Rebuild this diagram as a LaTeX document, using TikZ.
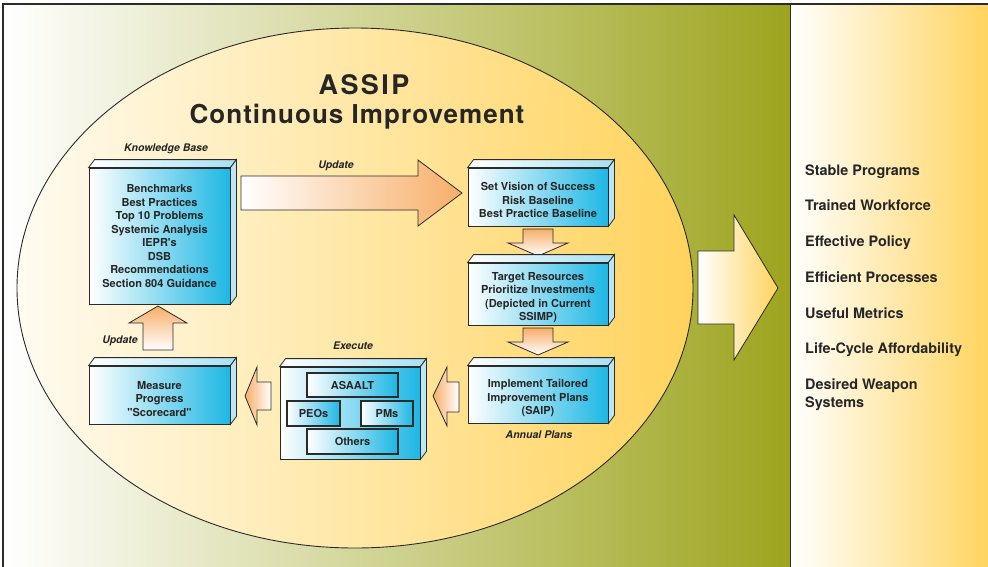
\documentclass[tikz,border=0pt]{standalone}
\usepackage{fontspec}
\setmainfont{TeX Gyre Heros}
\newfontfamily\titlefontA[LetterSpace=9]{TeX Gyre Heros}
\newfontfamily\titlefontB[LetterSpace=4]{TeX Gyre Heros}
\usetikzlibrary{calc}
\definecolor{linec}{HTML}{2B2B2B}
\definecolor{textc}{HTML}{262626}
\definecolor{cubeR}{HTML}{1DB7E4}
\definecolor{topR}{HTML}{A6E0F3}
\definecolor{sideC}{HTML}{BCE6F5}
\definecolor{arrowO}{HTML}{F7AE68}
\definecolor{ellL}{HTML}{FFFBF0}
\definecolor{ellR}{HTML}{FFD35C}
\definecolor{panelR}{HTML}{FFD35C}
\definecolor{olive}{HTML}{9DA41E}
\newcommand\cubefaces[1]{%
  \draw[faceline, left color=white, right color=topR]
    (#1.north west) -- ++(6,-8) -- ($(#1.north east)+(6,-8)$) -- (#1.north east) -- cycle;
  \draw[faceline, fill=sideC]
    (#1.north east) -- ++(6,-8) -- ($(#1.south east)+(6,-8)$) -- (#1.south east) -- cycle;
}
\newcommand\dn{\rule{0pt}{15pt}}
\tikzset{
  x=1pt, y=-1pt,
  faceline/.style={draw=linec, line width=0.8pt, line join=miter},
  cube/.style={draw=linec, line width=0.8pt, left color=white, right color=cubeR,
    align=center, text=textc, inner sep=0pt,
    font=\bfseries\fontsize{11}{13.5}\selectfont},
  inbox/.style={draw=linec, line width=1.1pt, left color=white, right color=cubeR,
    text=textc, inner sep=0pt, font=\bfseries\fontsize{11}{13}\selectfont},
  lab/.style={text=textc, inner sep=0pt, font=\bfseries\itshape\fontsize{10.5}{12}\selectfont},
  goal/.style={text=textc, inner sep=0pt, align=left, anchor=base west,
    font=\bfseries\fontsize{14.4}{18}\selectfont},
  blockarrow/.style={draw=linec, line width=0.8pt, line join=miter},
}
\begin{document}
\begin{tikzpicture}
\useasboundingbox (0,0) rectangle (988,566);
% background panels
\shade[left color=white, right color=olive] (3,4) rectangle (790,570);
\shade[left color=white, right color=panelR] (790,4) rectangle (992,570);
\draw[linec, line width=1.6pt] (995,4) -- (3,4) -- (3,570);
\draw[linec, line width=1pt] (790,4) -- (790,570);
% ellipse
\shade[left color=ellL, right color=ellR] (355,288) ellipse [x radius=338, y radius=260];
\draw[linec, line width=0.9pt] (355,288) ellipse [x radius=338, y radius=260];
% title
\node[text=textc, inner sep=0pt, font=\titlefontA\bfseries\fontsize{27}{30}\selectfont] (t1) at (364,85) {ASSIP};
\node[text=textc, inner sep=0pt, font=\titlefontB\bfseries\fontsize{26}{30}\selectfont] (t2) at (357,117) {Continuous Improvement};
% block arrows
\draw[blockarrow, left color=white, right color=arrowO]
  (241,176) -- (418,176) -- (418,160) -- (462,193) -- (418,226) -- (418,210) -- (241,210) -- cycle;
\draw[blockarrow, top color=arrowO, bottom color=white]
  (523,229) -- (553,229) -- (553,243) -- (568,243) -- (538,256) -- (508,243) -- (523,243) -- cycle;
\draw[blockarrow, top color=arrowO, bottom color=white]
  (523,328) -- (553,328) -- (553,342) -- (568,342) -- (538,355) -- (508,342) -- (523,342) -- cycle;
\draw[blockarrow, left color=arrowO, right color=white]
  (459,382) -- (447,382) -- (447,367) -- (433,396) -- (447,426) -- (447,412) -- (459,412) -- cycle;
\draw[blockarrow, left color=arrowO, right color=white]
  (271,382) -- (257,382) -- (257,367) -- (245,396) -- (257,425) -- (257,410) -- (271,410) -- cycle;
\draw[blockarrow, top color=arrowO, bottom color=white]
  (143,350) -- (143,323) -- (129,323) -- (158,306) -- (187,323) -- (173,323) -- (173,350) -- cycle;
\draw[blockarrow, left color=white, right color=panelR]
  (698,251) -- (734,251) -- (734,215) -- (778,288) -- (734,360) -- (734,324) -- (698,324) -- cycle;
% boxes
\node[cube, minimum width=141pt, minimum height=136pt] (kb) at (159.5,236)
  {Benchmarks\\Best Practices\\Top 10 Problems\\Systemic Analysis\\IEPR\textquotesingle s\\DSB\\Recommendations\\Section 804 Guidance};
\cubefaces{kb}
\node[cube, minimum width=140pt, minimum height=58pt] (vis) at (538,197)
  {\dn Set Vision of Success\\Risk Baseline\\Best Practice Baseline};
\cubefaces{vis}
\node[cube, minimum width=140pt, minimum height=62pt] (tgt) at (538,294)
  {\dn Target Resources\\Prioritize Investments\\(Depicted in Current\\SSIMP)};
\cubefaces{tgt}
\node[cube, minimum width=140pt, minimum height=57pt] (imp) at (538,394.5)
  {\rule{0pt}{16pt}Implement Tailored\\Improvement Plans\\(SAIP)};
\cubefaces{imp}
\node[cube, minimum width=141pt, minimum height=58pt] (meas) at (159.5,395)
  {\rule{0pt}{16pt}Measure\\Progress\\\textquotedbl Scorecard\textquotedbl};
\cubefaces{meas}
\node[cube, minimum width=140pt, minimum height=92pt] (exe) at (350,413) {};
\cubefaces{exe}
\node[inbox, minimum width=91pt, minimum height=24pt] (asaalt) at (352.5,385) {ASAALT};
\node[inbox, minimum width=53pt, minimum height=25pt] (peos) at (313.5,413.5) {PEOs};
\node[inbox, minimum width=52pt, minimum height=25pt] (pms) at (387,413.5) {PMs};
\node[inbox, minimum width=91pt, minimum height=25pt] (others) at (352.5,441.5) {Others};
% labels
\node[lab] (kblab) at (166,149) {Knowledge Base};
\node[lab] (up1) at (336,166) {Update};
\node[lab] (up2) at (120,341) {Update};
\node[lab] (exlab) at (353,346) {Execute};
\node[lab] (anlab) at (539,435) {Annual Plans};
% goals
\node[goal] (g1) at (805,175) {Stable Programs};
\node[goal] (g2) at (805,210) {Trained Workforce};
\node[goal] (g3) at (805,246) {Effective Policy};
\node[goal] (g4) at (805,282) {Efficient Processes};
\node[goal] (g5) at (805,318) {Useful Metrics};
\node[goal] (g6) at (805,353) {Life-Cycle Affordability};
\node[goal] (g7) at (805,407) {Desired Weapon\\Systems};
\end{tikzpicture}
\end{document}
